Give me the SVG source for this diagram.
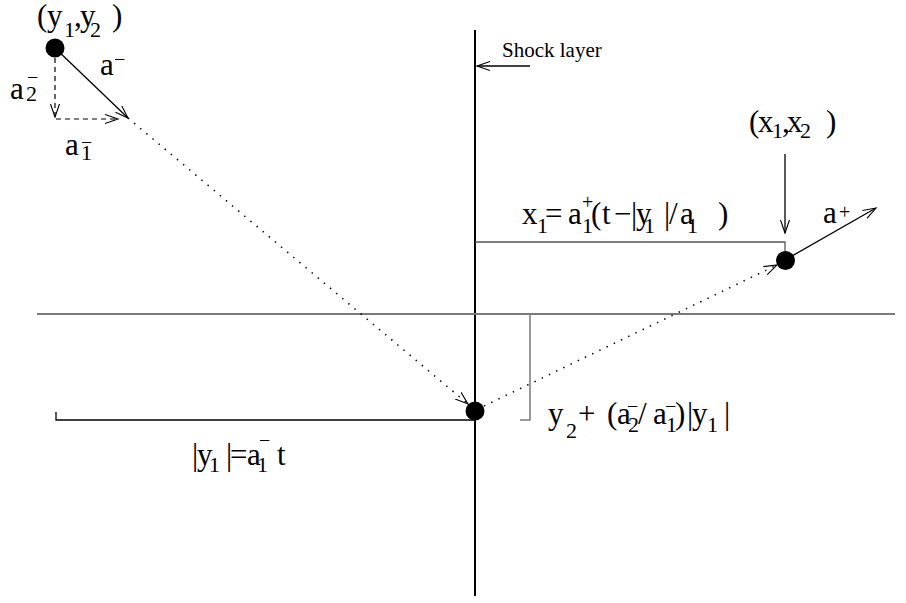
<svg xmlns="http://www.w3.org/2000/svg" width="906" height="603" viewBox="0 0 906 603" font-family="'Liberation Serif', 'DejaVu Serif', serif">
<style>
.m{font-size:31px}
.s{font-size:22px}
.p{font-size:20px}
.ax{stroke:#000;stroke-width:2;fill:none}
.gr{stroke:#7a7a7a;stroke-width:2;fill:none}
.ln{stroke:#000;stroke-width:1.3;fill:none}
.gl{stroke:#555;stroke-width:1.3;fill:none}
.dash{stroke:#000;stroke-width:1.2;fill:none;stroke-dasharray:5 4}
.dot{stroke:#000;stroke-width:1.6;fill:none;stroke-dasharray:1.4 6.6}
.pt{fill:#000}
</style>
<defs>
<marker id="ah" markerUnits="userSpaceOnUse" markerWidth="16" markerHeight="12" refX="13" refY="5" orient="auto">
<path d="M0,0.5 L13,5 L0,9.5" fill="none" stroke="#000" stroke-width="1.1"/>
</marker>
</defs>
<rect width="906" height="603" fill="#fff"/>
<g id="axes">
<line class="ax" x1="475" y1="30" x2="475" y2="596"/>
<line class="gr" x1="37" y1="314" x2="895" y2="314"/>
</g>
<g id="connectors">
<line class="ln" x1="55" y1="48" x2="128" y2="118" marker-end="url(#ah)"/>
<line class="dash" x1="55" y1="58" x2="55" y2="117" marker-end="url(#ah)"/>
<line class="dash" x1="56" y1="119" x2="118" y2="119" marker-end="url(#ah)"/>
<line class="dot" x1="128" y1="118" x2="468" y2="404" marker-end="url(#ah)"/>
<line class="dot" x1="484" y1="406" x2="777" y2="265" marker-end="url(#ah)"/>
<line class="ln" x1="785" y1="260" x2="876" y2="208" marker-end="url(#ah)"/>
<line class="ln" x1="785" y1="154" x2="785" y2="233" marker-end="url(#ah)"/>
<line class="ln" x1="530" y1="66" x2="477" y2="66" marker-end="url(#ah)"/>
<path class="ln" d="M56,412 V420 H475"/>
<path class="gr" style="stroke-width:1.5" d="M530,314 V420 H520"/>
<path class="gl" d="M475,242 H785 V251"/>
</g>
<g font-family="'Liberation Serif', 'DejaVu Serif', serif">
<g id="node-y">
<circle class="pt" cx="55" cy="48" r="9.5"/>
<text class="m"><tspan x="37" y="26">(</tspan><tspan x="47" y="26">y</tspan><tspan class="s" x="64" y="37">1</tspan><tspan x="74" y="26">,</tspan><tspan x="80" y="26">y</tspan><tspan class="s" x="90" y="37">2</tspan><tspan x="112" y="26">)</tspan></text>
</g>
<g id="label-a-minus">
<text class="m"><tspan x="100" y="75">a</tspan><tspan class="p" x="114" y="66">−</tspan></text>
</g>
<g id="label-a2-minus">
<text class="m"><tspan x="10" y="99">a</tspan><tspan class="s" x="26" y="101">2</tspan><tspan class="p" x="27" y="84">−</tspan></text>
</g>
<g id="label-a1-minus">
<text class="m"><tspan x="65" y="155">a</tspan><tspan class="s" x="81" y="160">1</tspan><tspan class="p" x="81" y="149">−</tspan></text>
</g>
<g id="label-shock">
<text x="502" y="57" font-size="21">Shock layer</text>
</g>
<g id="node-origin">
<circle class="pt" cx="475" cy="411" r="9.5"/>
</g>
<g id="node-x">
<circle class="pt" cx="785.5" cy="260.5" r="9.5"/>
<text class="m"><tspan x="749" y="132">(</tspan><tspan x="758" y="132">x</tspan><tspan class="s" x="772" y="138">1</tspan><tspan x="782" y="132">,</tspan><tspan x="787" y="132">x</tspan><tspan class="s" x="800" y="138">2</tspan><tspan x="826" y="132">)</tspan></text>
</g>
<g id="label-a-plus">
<text class="m"><tspan x="823" y="223">a</tspan><tspan class="p" x="839" y="219">+</tspan></text>
</g>
<g id="label-x1">
<text class="m"><tspan x="522" y="224">x</tspan><tspan class="s" x="537" y="233">1</tspan><tspan x="545" y="224">=</tspan><tspan x="568" y="224">a</tspan><tspan class="p" x="582" y="209">+</tspan><tspan class="s" x="582" y="233">1</tspan><tspan x="591" y="224">(</tspan><tspan x="602" y="224">t</tspan><tspan x="614" y="224">−</tspan><tspan x="631" y="224">|</tspan><tspan x="636" y="224">y</tspan><tspan class="s" x="644" y="233">1</tspan><tspan x="664" y="224">|</tspan><tspan x="669" y="224">/</tspan><tspan x="680" y="224">a</tspan><tspan class="s" x="687" y="233">1</tspan><tspan x="718" y="224">)</tspan></text>
</g>
<g id="label-y2">
<text class="m"><tspan x="548" y="424">y</tspan><tspan class="s" x="566" y="438">2</tspan><tspan x="578" y="424">+</tspan><tspan x="607" y="424">(</tspan><tspan x="617" y="424">a</tspan><tspan class="s" x="628" y="432">2</tspan><tspan class="p" x="627" y="413">−</tspan><tspan x="638" y="424">/</tspan><tspan x="653" y="424">a</tspan><tspan class="s" x="666" y="432">1</tspan><tspan class="p" x="665" y="413">−</tspan><tspan x="675" y="424">)</tspan><tspan x="687" y="424">|</tspan><tspan x="692" y="424">y</tspan><tspan class="s" x="707" y="432">1</tspan><tspan x="724" y="424">|</tspan></text>
</g>
<g id="label-y1">
<text class="m"><tspan x="192" y="465">|</tspan><tspan x="197" y="465">y</tspan><tspan class="s" x="209" y="472">1</tspan><tspan x="226" y="465">|</tspan><tspan x="230" y="465">=</tspan><tspan x="247" y="465">a</tspan><tspan class="s" x="257" y="472">1</tspan><tspan class="p" x="259" y="447">−</tspan><tspan x="277" y="465">t</tspan></text>
</g>
</g>
</svg>
